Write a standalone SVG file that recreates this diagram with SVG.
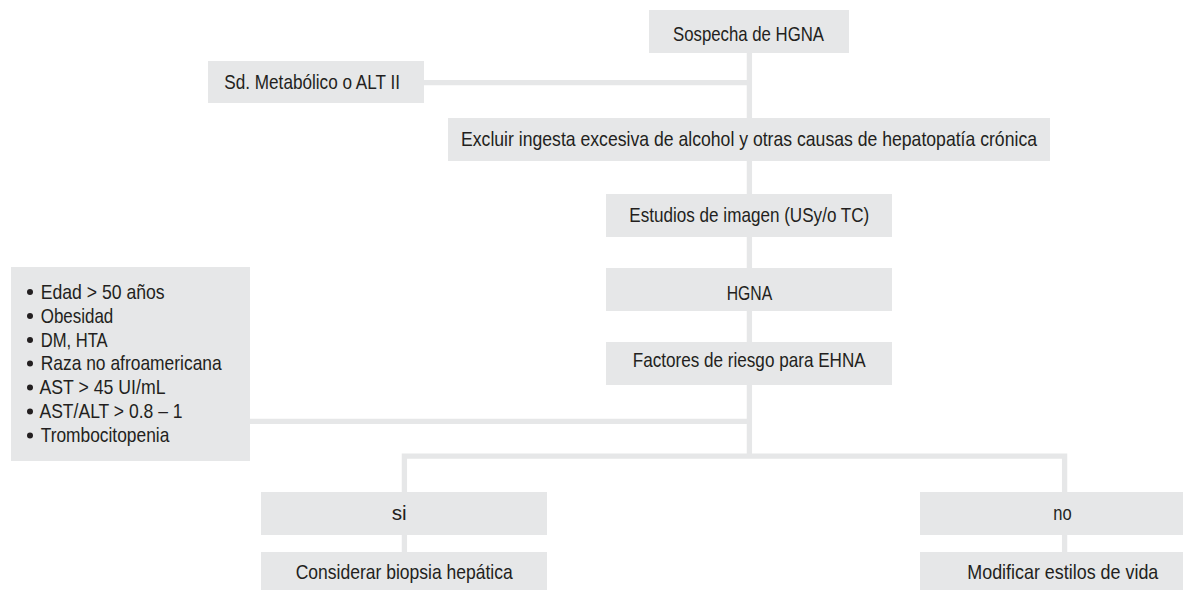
<svg xmlns="http://www.w3.org/2000/svg" width="1193" height="590" viewBox="0 0 1193 590">
<style>
.box{fill:#e6e7e8;}
.t{font-family:"Liberation Sans",Arial,sans-serif;font-size:21px;fill:#231f20;}
.ln{fill:none;stroke:#e6e7e8;stroke-width:5.3;stroke-linejoin:miter;}
.b{fill:#231f20;}
</style>
<rect width="1193" height="590" fill="#ffffff"/>
<g id="connectors">
<path class="ln" d="M749.4 53 V456.2"/>
<path class="ln" d="M424 82.6 H749.4"/>
<path class="ln" d="M250 421.3 H749.4"/>
<path class="ln" d="M404.4 492 V456.2 H1064.6 V492"/>
<path class="ln" d="M404.4 535 V552"/>
<path class="ln" d="M1064.6 535 V552"/>
</g>
<g id="n-sospecha">
<rect class="box" x="649" y="10" width="200" height="43"/>
<text class="t" x="673" y="40.5" textLength="151" lengthAdjust="spacingAndGlyphs">Sospecha de HGNA</text>
</g>
<g id="n-sd">
<rect class="box" x="208" y="61" width="216" height="42"/>
<text class="t" x="224.3" y="89.3" textLength="175.7" lengthAdjust="spacingAndGlyphs">Sd. Metabólico o ALT II</text>
</g>
<g id="n-excluir">
<rect class="box" x="448" y="118" width="602" height="43"/>
<text class="t" x="461" y="145.7" textLength="576" lengthAdjust="spacingAndGlyphs">Excluir ingesta excesiva de alcohol y otras causas de hepatopatía crónica</text>
</g>
<g id="n-estudios">
<rect class="box" x="606" y="194" width="286" height="43"/>
<text class="t" x="629.3" y="222.3" textLength="240" lengthAdjust="spacingAndGlyphs">Estudios de imagen (USy/o TC)</text>
</g>
<g id="n-hgna">
<rect class="box" x="606" y="268" width="286" height="43"/>
<text class="t" x="726.7" y="300" textLength="45.6" lengthAdjust="spacingAndGlyphs">HGNA</text>
</g>
<g id="n-factores">
<rect class="box" x="606" y="342" width="286" height="43"/>
<text class="t" x="632.7" y="366.7" textLength="233" lengthAdjust="spacingAndGlyphs">Factores de riesgo para EHNA</text>
</g>
<g id="n-riesgos">
<rect class="box" x="11" y="267" width="239" height="194"/>
<circle class="b" cx="30" cy="292" r="3"/>
<text class="t" x="40.7" y="299" textLength="124" lengthAdjust="spacingAndGlyphs">Edad &gt; 50 años</text>
<circle class="b" cx="30" cy="316" r="3"/>
<text class="t" x="40.7" y="322.8" textLength="72.6" lengthAdjust="spacingAndGlyphs">Obesidad</text>
<circle class="b" cx="30" cy="340" r="3"/>
<text class="t" x="40.7" y="346.7" textLength="67" lengthAdjust="spacingAndGlyphs">DM, HTA</text>
<circle class="b" cx="30" cy="363.5" r="3"/>
<text class="t" x="40.7" y="370.3" textLength="181" lengthAdjust="spacingAndGlyphs">Raza no afroamericana</text>
<circle class="b" cx="30" cy="387.5" r="3"/>
<text class="t" x="39.5" y="394.3" textLength="126" lengthAdjust="spacingAndGlyphs">AST &gt; 45 UI/mL</text>
<circle class="b" cx="30" cy="411.5" r="3"/>
<text class="t" x="39.5" y="418.3" textLength="143" lengthAdjust="spacingAndGlyphs">AST/ALT &gt; 0.8 – 1</text>
<circle class="b" cx="30" cy="435.5" r="3"/>
<text class="t" x="40.7" y="442.3" textLength="128.6" lengthAdjust="spacingAndGlyphs">Trombocitopenia</text>
</g>
<g id="n-si">
<rect class="box" x="261" y="492" width="286" height="43"/>
<text class="t" x="391.7" y="520" textLength="15" lengthAdjust="spacingAndGlyphs">si</text>
</g>
<g id="n-biopsia">
<rect class="box" x="261" y="552" width="286" height="43"/>
<text class="t" x="295.7" y="579.3" textLength="217" lengthAdjust="spacingAndGlyphs">Considerar biopsia hepática</text>
</g>
<g id="n-no">
<rect class="box" x="920" y="492" width="263" height="43"/>
<text class="t" x="1053.3" y="520" textLength="18.4" lengthAdjust="spacingAndGlyphs">no</text>
</g>
<g id="n-estilos">
<rect class="box" x="920" y="552" width="263" height="43"/>
<text class="t" x="967.3" y="579.3" textLength="191" lengthAdjust="spacingAndGlyphs">Modificar estilos de vida</text>
</g>
</svg>
